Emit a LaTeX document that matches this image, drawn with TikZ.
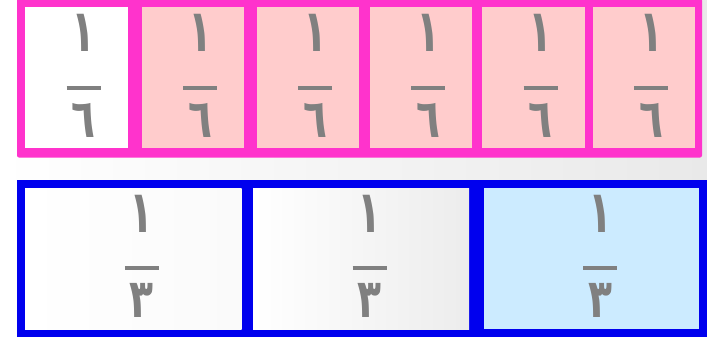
\documentclass[tikz,border=0pt]{standalone}
\usepackage{graphicx}
\usepackage{fontspec}
\TeXXeTstate=1
\newfontfamily\arabicfont[Script=Arabic]{DejaVu Sans}
\definecolor{pinkborder}{HTML}{FF33CC}
\definecolor{pinkfill}{HTML}{FFCCCC}
\definecolor{blueborder}{HTML}{0000EE}
\definecolor{bluefill}{HTML}{CCEBFF}
\definecolor{digitgray}{HTML}{808080}
\definecolor{bggray}{HTML}{E9E9E9}
\newcommand{\talldigit}[2][1.3]{\scalebox{0.95}[#1]{\beginR #2\endR}}
\tikzset{
  cellbox/.style={draw=none, inner sep=0pt, outer sep=0pt},
  digit/.style={inner sep=0pt, text=digitgray, font=\arabicfont\bfseries\fontsize{31}{31}\selectfont},
  fracbar/.style={draw=digitgray, line width=2.3pt}
}
\begin{document}
\begin{tikzpicture}[x=0.75pt,y=-0.75pt]
\useasboundingbox (0,0) rectangle (707,336);
\shade[left color=white, right color=bggray] (0,0) rectangle (707,336);
% frames
\node[cellbox, fill=pinkborder, rounded corners=1.5pt, minimum width={685*0.75pt}, minimum height={159*0.75pt}] (topframe) at (359.5,78) {};
\node[cellbox, fill=blueborder, minimum width={691*0.75pt}, minimum height={158*0.75pt}] (botframe) at (362.5,259) {};
% top row: sixths
\foreach \a/\b/\c/\n in {25/128/white/1,142/244/pinkfill/2,257/359/pinkfill/3,370/472/pinkfill/4,482/585/pinkfill/5,593/695/pinkfill/6}{
  \pgfmathsetmacro\cx{(\a+\b)/2}
  \pgfmathsetmacro\w{(\b-\a)*0.75}
  \node[cellbox, fill=\c, minimum width=\w pt, minimum height={141*0.75pt}] (t\n) at (\cx,77.5) {};
  \node[digit] (tn\n) at (\cx+7,32.5) {\talldigit[1.42]{١}};
  \node[digit] (td\n) at (\cx+7,120.5) {\talldigit{٦}};
  \coordinate (tbl\n) at (\cx-10,88);
  \coordinate (tbr\n) at (\cx+24,88);
  \draw[fracbar] (tbl\n) -- (tbr\n);
}
% bottom row: thirds
\node[cellbox, left color=white, right color=white!98!black, minimum width={216.7*0.75pt}, minimum height={141*0.75pt}] (b1) at (133.35,258.5) {};
\node[cellbox, left color=white, right color=bggray!85, minimum width={216*0.75pt}, minimum height={141*0.75pt}] (b2) at (361,258.5) {};
\node[cellbox, fill=bluefill, minimum width={215*0.75pt}, minimum height={141*0.75pt}] (b3) at (591.5,258.5) {};
\foreach \cx/\n in {133.35/1,361/2,591.5/3}{
  \node[digit] (bn\n) at (\cx+8.5,213.5) {\talldigit[1.42]{١}};
  \node[digit] (bd\n) at (\cx+8.5,300.5) {\talldigit{٣}};
  \coordinate (bbl\n) at (\cx-8.5,268);
  \coordinate (bbr\n) at (\cx+25.5,268);
  \draw[fracbar] (bbl\n) -- (bbr\n);
}
\end{tikzpicture}
\end{document}
